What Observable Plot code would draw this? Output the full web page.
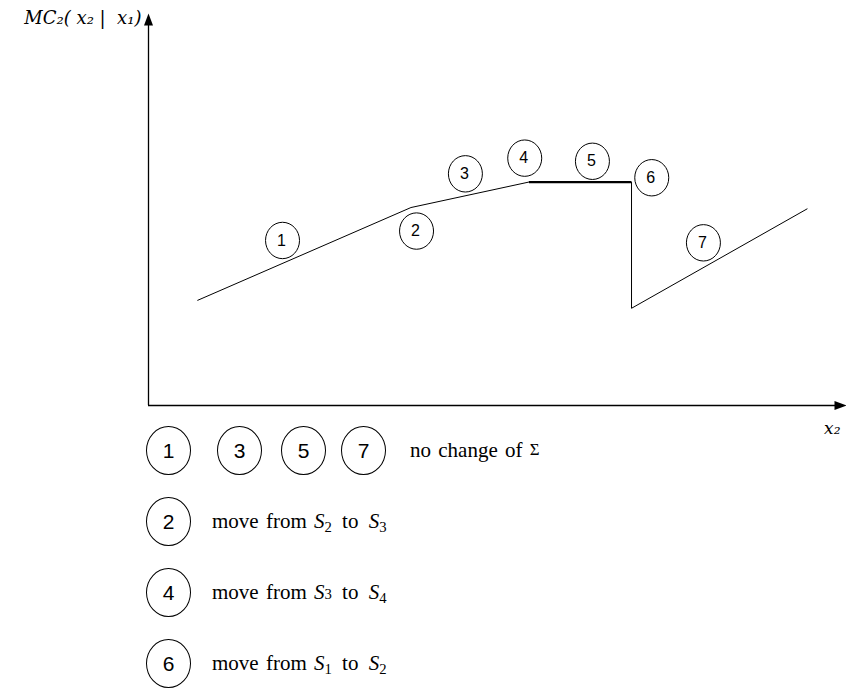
<!DOCTYPE html>
<html><head><meta charset="utf-8">
<script src="https://cdn.jsdelivr.net/npm/d3@7"></script>
<script src="https://cdn.jsdelivr.net/npm/@observablehq/plot@0.6"></script>
<style>
body{margin:0;background:#fff;}
#wrap{position:relative;width:846px;height:690px;overflow:hidden;background:#fff;}
#legend{position:absolute;left:0;top:415px;width:846px;font-family:"Liberation Serif",serif;font-size:21px;color:#000;}
.row{display:flex;align-items:center;height:71px;padding-left:146px;}
.c{box-sizing:border-box;width:45px;height:49px;border:1.2px solid #000;border-radius:50%;display:flex;align-items:center;justify-content:center;font-family:"Liberation Sans",Arial,sans-serif;font-size:21px;flex:none;}
.t{white-space:nowrap;word-spacing:2px;}
.t sub{font-size:70%;vertical-align:-0.25em;line-height:0;}
.sm{font-size:70%;}
.sg{font-size:80%;vertical-align:0.1em;}
.wide{word-spacing:5px;}
</style></head><body><div id="wrap"><div id="chart"></div><div id="legend"></div></div>
<script>
// piecewise marginal-cost curve (data units)
const pathX = [0.70, 3.76, 5.45, 6.92, 6.92, 9.44];
const pathY = [2.68, 5.05, 5.70, 5.70, 2.48, 5.02];
// circled segment labels
const labelIds = [1, 2, 3, 4, 5, 6, 7];
const labelX = [1.92, 3.84, 4.54, 5.39, 6.36, 7.21, 7.95];
const labelY = [4.21, 4.45, 5.91, 6.31, 6.23, 5.81, 4.15];
// axis titles
const yTitle = "MC\u2082( x\u2082 |  x\u2081)";
const xTitle = "x\u2082";
// legend
const legendGroups = [[1, 3, 5, 7], [2], [4], [6]];
const legendTexts = [
  "no change of <span class='sg'>\u03A3</span>",
  "move from <span class='wide'><i>S</i><sub>2</sub> to <i>S</i><sub>3</sub></span>",
  "move from <span class='wide'><i>S</i><span class='sm'>3</span> to <i>S</i><sub>4</sub></span>",
  "move from <span class='wide'><i>S</i><sub>1</sub> to <i>S</i><sub>2</sub></span>"
];

const segs = d3.range(pathX.length - 1).map(i => ({x1: pathX[i], y1: pathY[i], x2: pathX[i + 1], y2: pathY[i + 1]}));
const labels = labelIds.map((id, i) => ({id, x: labelX[i], y: labelY[i]}));

const ellipse = {draw(ctx, size) {
  const r = Math.sqrt(size / Math.PI), rx = r, ry = r * 1.07, k = 0.5523;
  ctx.moveTo(rx, 0);
  ctx.bezierCurveTo(rx, k * ry, k * rx, ry, 0, ry);
  ctx.bezierCurveTo(-k * rx, ry, -rx, k * ry, -rx, 0);
  ctx.bezierCurveTo(-rx, -k * ry, -k * rx, -ry, 0, -ry);
  ctx.bezierCurveTo(k * rx, -ry, rx, -k * ry, rx, 0);
  ctx.closePath();
}};
const arrowHead = {draw(ctx) {
  ctx.moveTo(0, 0); ctx.lineTo(4.5, 12); ctx.lineTo(-4.5, 12); ctx.closePath();
}};

const xMax = 10, yMax = 10;
const chart = Plot.plot({
  width: 846, height: 440,
  marginLeft: 148, marginRight: 0, marginTop: 13, marginBottom: 35,
  x: {domain: [0, xMax], axis: null},
  y: {domain: [0, yMax], axis: null},
  style: {background: "#fff"},
  marks: [
    Plot.ruleY([0], {x1: 0, x2: xMax - 0.1, stroke: "#000", strokeWidth: 1.3}),
    Plot.ruleX([0], {y1: 0, y2: yMax - 0.2, stroke: "#000", strokeWidth: 1.3}),
    Plot.dot([{x: 0, y: yMax}], {x: "x", y: "y", symbol: arrowHead, fill: "#000", stroke: "none"}),
    Plot.dot([{x: xMax, y: 0}], {x: "x", y: "y", symbol: arrowHead, rotate: 90, fill: "#000", stroke: "none"}),
    Plot.link(segs, {x1: "x1", y1: "y1", x2: "x2", y2: "y2", stroke: "#000", strokeWidth: d => d.y1 === d.y2 ? 2.2 : 1}),
    Plot.dot(labels, {x: "x", y: "y", r: 17, symbol: ellipse, stroke: "#000", fill: "none", strokeWidth: 1}),
    Plot.text(labels, {x: "x", y: "y", text: d => String(d.id), dx: -1, fontSize: 16, fontFamily: "Liberation Sans, Arial, sans-serif", fill: "#000"}),
    Plot.text([yTitle], {x: () => 0, y: () => yMax, text: d => d, textAnchor: "end", dx: -7, dy: 5, fontStyle: "italic", fontFamily: "DejaVu Serif, serif", fontSize: 18, fill: "#000"}),
    Plot.text([xTitle], {x: () => xMax, y: () => 0, text: d => d, textAnchor: "end", dx: -6, dy: 23, fontStyle: "italic", fontFamily: "DejaVu Serif, serif", fontSize: 17, fill: "#000"})
  ]
});
document.getElementById("chart").appendChild(chart);

const legend = document.getElementById("legend");
const row1Gaps = [0, 26, 19, 15];
legendGroups.forEach((ids, r) => {
  const row = document.createElement("div");
  row.className = "row";
  ids.forEach((id, j) => {
    const c = document.createElement("div");
    c.className = "c";
    c.textContent = String(id);
    if (j > 0) c.style.marginLeft = row1Gaps[j] + "px";
    row.appendChild(c);
  });
  const t = document.createElement("div");
  t.className = "t";
  t.style.marginLeft = (ids.length > 1 ? 24 : 21) + "px";
  t.innerHTML = legendTexts[r];
  row.appendChild(t);
  legend.appendChild(row);
});
</script></body></html>
